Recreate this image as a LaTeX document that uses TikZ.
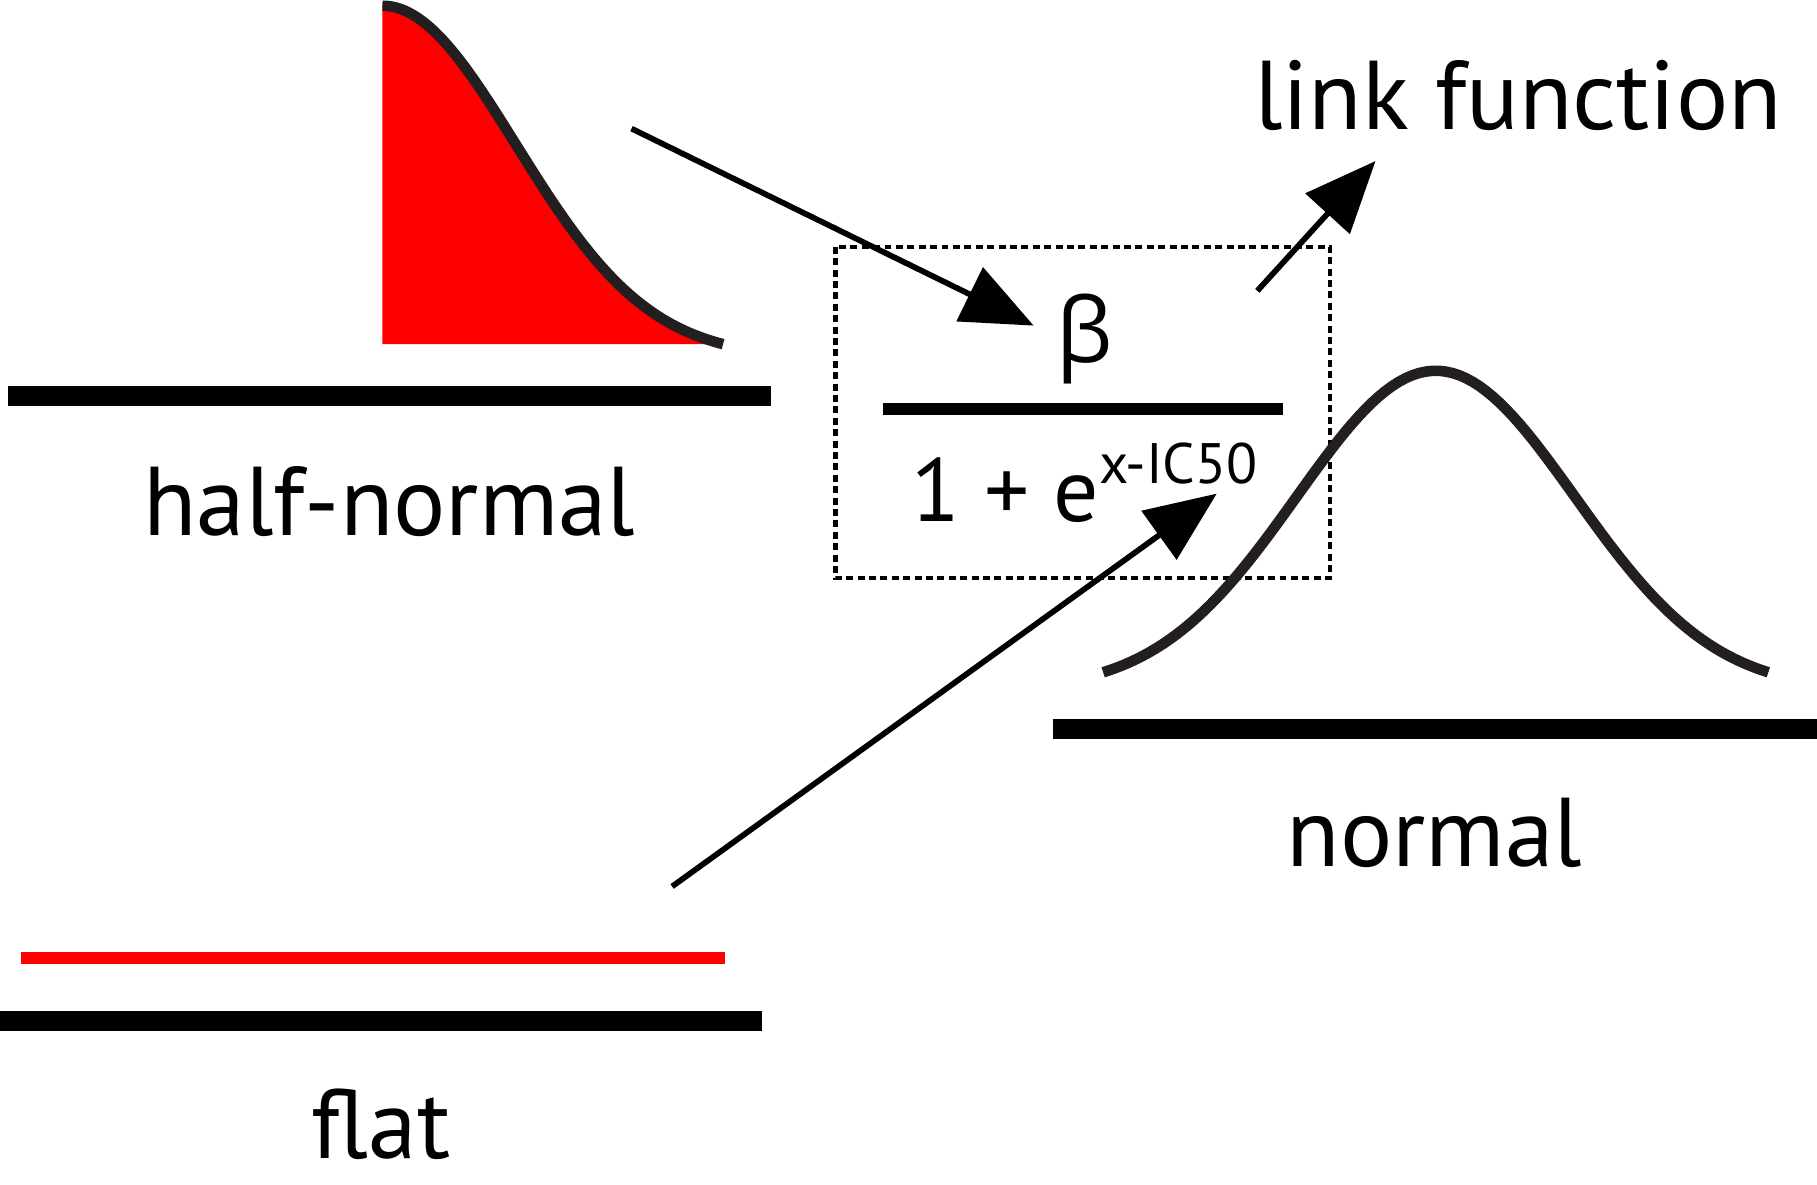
\documentclass[tikz,border=0pt]{standalone}
\usepackage{fontspec}
\setmainfont{PT Sans}
\newfontfamily\greekfont{Open Sans}
\usetikzlibrary{arrows.meta}
\definecolor{curvegrey}{RGB}{35,31,32}
\begin{document}
\begin{tikzpicture}[x=0.1mm,y=-0.1mm,
  axisbar/.style={line width=4.9pt},
  density/.style={line width=2.6pt,draw=curvegrey},
  pointer/.style={line width=1.4pt,-{Triangle[length=17.5pt,width=14.5pt]}},
  priorname/.style={anchor=base,font=\fontsize{24}{28}\selectfont}]
  \useasboundingbox (0,0) rectangle (1568,1022);
  % half-normal prior
  \fill[red] (330,297) -- plot[domain=330:624,samples=80]
    (\x,{5+292*(1-(exp(-0.5*((\x-330)/115)*((\x-330)/115))-0.038)/0.962)}) -- cycle;
  \draw[density] plot[domain=330:624,samples=80]
    (\x,{5+292*(1-(exp(-0.5*((\x-330)/115)*((\x-330)/115))-0.038)/0.962)});
  \draw[axisbar] (7,342) -- (665,342);
  \node[priorname] (hn-label) at (336,462) {half-normal};
  % flat prior
  \draw[red,line width=3pt] (18,827) -- (626,827);
  \draw[axisbar] (0,881) -- (658,881);
  \node[priorname] (flat-label) at (329,1000) {flat};
  % link function
  \draw[line width=1pt,dash pattern=on 1.7pt off 1.1pt] (721,213) rectangle (1148,499);
  \node[anchor=base,font=\greekfont\fontsize{22}{26}\selectfont] (beta) at (936,313) {β};
  \draw[line width=3pt] (762,353) -- (1107,353);
  \node[anchor=base,font=\fontsize{22}{26}\selectfont] (denom) at (936,450)
    {1 + e\raisebox{9.2pt}{\fontsize{14}{16}\selectfont x-IC50}};
  \node[priorname] (link-label) at (1310,112) {link function};
  % normal prior
  \draw[density] plot[domain=952:1526,samples=100]
    (\x,{580-260*(exp(-0.5*((\x-1239)/120)*((\x-1239)/120))-0.058)/0.942});
  \draw[axisbar] (909,629) -- (1568,629);
  \node[priorname] (n-label) at (1238,748) {normal};
  % arrows
  \coordinate (hn-out) at (545,111);
  \coordinate (beta-in) at (892,281);
  \coordinate (link-out) at (1085,251);
  \coordinate (link-in) at (1187,139);
  \coordinate (flat-out) at (580,765);
  \coordinate (ic50-in) at (1050,426);
  \draw[pointer] (hn-out) -- (beta-in);
  \draw[pointer] (link-out) -- (link-in);
  \draw[pointer] (flat-out) -- (ic50-in);
\end{tikzpicture}
\end{document}
